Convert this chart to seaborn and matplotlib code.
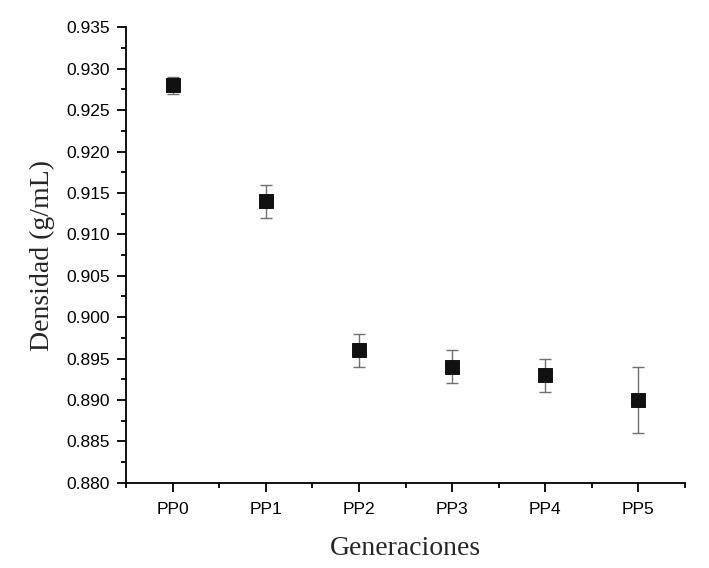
import numpy as np
import matplotlib
matplotlib.use('Agg')
import matplotlib.pyplot as plt
import seaborn as sns
from matplotlib.ticker import MultipleLocator, AutoMinorLocator

# data
generaciones = ['PP0', 'PP1', 'PP2', 'PP3', 'PP4', 'PP5']
densidad = [0.928, 0.914, 0.896, 0.894, 0.893, 0.890]
error = [0.001, 0.002, 0.002, 0.002, 0.002, 0.004]

sns.set_style('ticks')
plt.rcParams['font.family'] = ['Liberation Sans', 'DejaVu Sans']

fig = plt.figure(figsize=(7.09, 5.68), dpi=100)
ax = fig.add_axes([0.178, 0.150, 0.788, 0.802])

pos = np.arange(len(generaciones))
ax.errorbar(pos, densidad, yerr=error, fmt='none', ecolor='#707070',
            elinewidth=1.0, capsize=4, capthick=1.0, zorder=2)
sns.scatterplot(x=pos, y=densidad, marker='s', s=95, color='#111111',
                edgecolor='#000000', linewidth=0.6, ax=ax, zorder=3)

ax.set_xlim(-0.5, 5.5)
ax.set_ylim(0.880, 0.935)
ax.set_xticks(pos)
ax.set_xticklabels(generaciones)
ax.xaxis.set_minor_locator(MultipleLocator(0.5))
ax.yaxis.set_major_locator(MultipleLocator(0.005))
ax.yaxis.set_minor_locator(AutoMinorLocator(2))
ax.yaxis.set_major_formatter(matplotlib.ticker.FormatStrFormatter('%.3f'))

sns.despine(ax=ax)
for s in ['left', 'bottom']:
    ax.spines[s].set_linewidth(1.3)
    ax.spines[s].set_color('black')
ax.tick_params(which='major', direction='out', length=6.5, width=1.3,
               labelsize=12.5, colors='black', pad=5)
ax.tick_params(axis='x', which='major', pad=7)
ax.tick_params(which='minor', direction='out', length=3.5, width=1.3,
               colors='black')

ax.set_xlabel('Generaciones', family=['Liberation Serif', 'DejaVu Serif'],
              fontsize=20, labelpad=14)
ax.set_ylabel('Densidad (g/mL)', family=['Liberation Serif', 'DejaVu Serif'],
              fontsize=20, labelpad=8)

fig.savefig('out.png', dpi=100)
